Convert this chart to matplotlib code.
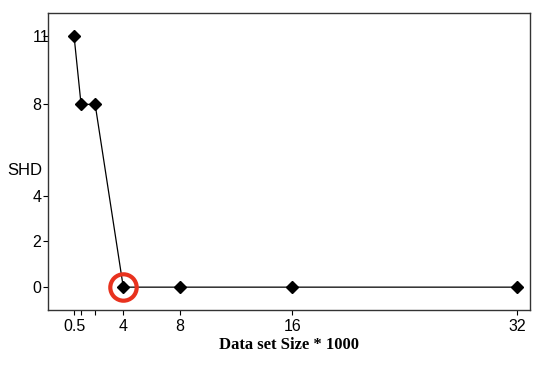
import matplotlib
matplotlib.use("Agg")
import matplotlib.pyplot as plt

sizes = [0.5, 1, 2, 4, 8, 16, 32]
shd = [11, 8, 8, 0, 0, 0, 0]
xticks = [0.5, 1, 2, 4, 8, 16, 32]
xticklabels = ["0.5", "", "", "4", "8", "16", "32"]
yticks = [0, 2, 4, 8, 11]
yticklabels = ["0", "2", "4", "8", "11"]
highlight = (4, 0)

fig = plt.figure(figsize=(5.5, 3.66), dpi=100)
ax = fig.add_axes([48/550, 1 - 310/366, (530-48)/550, (310-13)/366])

ax.plot(sizes, shd, color="black", linewidth=0.9, marker="D", markersize=6,
        markerfacecolor="black", markeredgecolor="black")
ax.plot([highlight[0]], [highlight[1]], marker="o", markersize=19,
        markerfacecolor="none", markeredgecolor="#e8321e", markeredgewidth=3,
        linestyle="none")

ax.set_xlim(-1.35, 32.9)
ax.set_ylim(-1.0, 12.0)
ax.set_xticks(xticks)
ax.set_xticklabels(xticklabels, fontsize=11.5, fontfamily="Liberation Sans")
ax.set_yticks(yticks)
ax.set_yticklabels(yticklabels, fontsize=11.5, fontfamily="Liberation Sans")
ax.tick_params(axis="x", direction="out", length=3.6, width=0.8, pad=3, colors="black")
ax.tick_params(axis="y", direction="out", length=3.6, width=0.8, pad=7.4, colors="black")
for lbl in ax.get_yticklabels():
    lbl.set_horizontalalignment("left")

for s in ax.spines.values():
    s.set_linewidth(1.0)
    s.set_color("#333333")

ax.set_xlabel("Data set Size * 1000", fontsize=12, fontweight="bold",
              fontfamily="Liberation Serif", labelpad=2)
ax.set_ylabel("SHD", fontsize=12, fontfamily="Liberation Sans", rotation=0,
              labelpad=0, ha="center", va="center")
ax.yaxis.set_label_coords(-0.049, 0.471)

fig.savefig("out.png", dpi=100)
